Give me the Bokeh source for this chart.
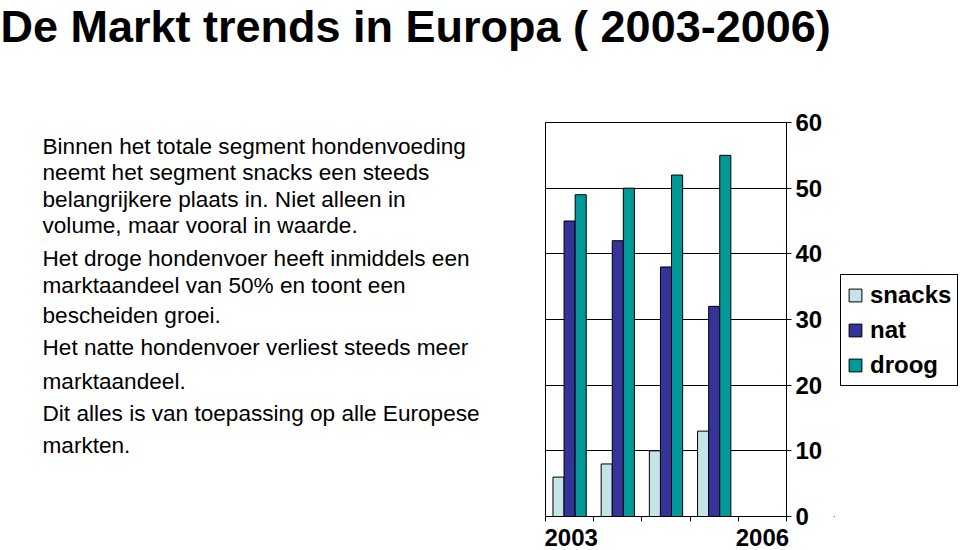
from bokeh.plotting import figure
from bokeh.models import Range1d, FixedTicker, Legend, LegendItem, ColumnDataSource
from bokeh.layouts import column, row
from bokeh.core.properties import value
from bokeh.embed import file_html
from bokeh.resources import INLINE
import numpy as np

# ---------------- data ----------------
years = ["2003", "2004", "2005", "2006"]
snacks = [6, 8, 10, 13]
nat = [45, 42, 38, 32]
droog = [49, 50, 52, 55]
series_names = ["snacks", "nat", "droog"]
slot_labels = ["2003", "", "", "", "2006"]
y_ticks = [0, 10, 20, 30, 40, 50, 60]

title_text = "De Markt trends in Europa ( 2003-2006)"
body_lines = [
    "Binnen het totale segment hondenvoeding",
    "neemt het segment snacks een steeds",
    "belangrijkere plaats in. Niet alleen in",
    "volume, maar vooral in waarde.",
    "Het droge hondenvoer heeft inmiddels een",
    "marktaandeel van 50% en toont een",
    "bescheiden groei.",
    "Het natte hondenvoer verliest steeds meer",
    "marktaandeel.",
    "Dit alles is van toepassing op alle Europese",
    "markten.",
]

# ---------------- styles / layout ----------------
colors = ["#C4E4E8", "#333399", "#009999"]
FONT = "Liberation Sans"
W, H = 960, 550
TOP_H = 100
ROW_H = H - TOP_H
TEXT_W = 544
CHART_R = 834
FL, FR, FT, FB = 545, 786, 122, 516          # chart frame edges (page px)
title_baseline = 41
body_baselines = [153, 179, 206, 232, 265, 292, 322, 354, 388, 420, 452]
TITLE_SIZE, BODY_SIZE = 45, 22.6
BASE_SHIFT = 0.33                              # renderer's baseline offset (em)


def blank(width, height, y0, y1):
    f = figure(width=width, height=height, x_range=Range1d(0, width), y_range=Range1d(y0, y1),
               output_backend="svg", toolbar_location=None, min_border=0,
               x_axis_type=None, y_axis_type=None)
    f.title = None
    f.min_border_top = 0
    f.min_border_bottom = 0
    f.min_border_left = 0
    f.min_border_right = 0
    f.grid.visible = False
    f.outline_line_color = None
    f.background_fill_color = "white"
    f.border_fill_color = "white"
    return f


# ---------------- title strip ----------------
tp = blank(W, TOP_H, 0, TOP_H)
tp.text(x=[0], y=[TOP_H - (title_baseline - BASE_SHIFT * TITLE_SIZE)], text=[title_text],
        text_font=value(FONT), text_font_size=f"{TITLE_SIZE}px", text_font_style="bold",
        text_color="black", text_baseline="alphabetic", text_align="left")

# ---------------- body text (row frames align with chart frame FT..FB) ----------------
lp = blank(TEXT_W, ROW_H, H - FB, H - FT)
lp.text(x=[42] * len(body_lines), y=[H - (b - BASE_SHIFT * BODY_SIZE) for b in body_baselines],
        text=body_lines, text_font=value(FONT), text_font_size=f"{BODY_SIZE}px",
        text_color="black", text_baseline="alphabetic", text_align="left")

# ---------------- chart ----------------
p = figure(width=CHART_R - TEXT_W, height=ROW_H, title=None,
           x_range=Range1d(0, len(slot_labels)), y_range=Range1d(y_ticks[0], y_ticks[-1]),
           y_axis_location="right", output_backend="svg", toolbar_location=None,
           min_border_left=FL - TEXT_W, min_border_right=CHART_R - FR,
           min_border_top=FT - TOP_H, min_border_bottom=H - FB)
p.outline_line_color = "black"
p.outline_line_width = 1
p.background_fill_color = "white"
p.border_fill_color = "white"

idx = np.arange(len(years))
offsets = [0.27, 0.5, 0.73]
bw = 0.23
for vals, off, col in zip([snacks, nat, droog], offsets, colors):
    src = ColumnDataSource(dict(x=idx + off, top=vals))
    p.vbar(x="x", top="top", width=bw, source=src, fill_color=col,
           line_color="black", line_width=1)

tick_pos = [i + 0.5 for i, s in enumerate(slot_labels) if s]
p.xaxis.ticker = FixedTicker(ticks=tick_pos, minor_ticks=list(range(len(slot_labels) + 1)))
p.xaxis.major_label_overrides = {i + 0.5: s for i, s in enumerate(slot_labels) if s}
p.xaxis.major_tick_out = 0
p.xaxis.major_tick_in = 0
p.xaxis.minor_tick_out = 5
p.xaxis.minor_tick_in = 0
p.xaxis.minor_tick_line_color = "black"
p.xaxis.axis_line_color = "black"
p.xaxis.major_label_text_font = FONT
p.xaxis.major_label_text_font_size = "24px"
p.xaxis.major_label_text_font_style = "bold"
p.xaxis.major_label_text_color = "black"
p.xaxis.major_label_standoff = 7

p.yaxis.ticker = FixedTicker(ticks=y_ticks)
p.yaxis.major_tick_out = 5
p.yaxis.major_tick_in = 0
p.yaxis.major_tick_line_color = "black"
p.yaxis.minor_tick_line_color = None
p.yaxis.axis_line_color = "black"
p.yaxis.major_label_text_font = FONT
p.yaxis.major_label_text_font_size = "24px"
p.yaxis.major_label_text_font_style = "bold"
p.yaxis.major_label_text_color = "black"
p.yaxis.major_label_standoff = 4

p.xgrid.visible = False
p.ygrid.ticker = FixedTicker(ticks=y_ticks)
p.ygrid.grid_line_color = "black"
p.ygrid.grid_line_width = 1

# ---------------- legend strip (swatch renderers kept off-view) ----------------
gp = blank(W - CHART_R, ROW_H, 0, FB - FT)
items = []
for name, col in zip(series_names, colors):
    r = gp.vbar(x=[-1000], top=[0], width=1, fill_color=col, line_color="black", line_width=1)
    items.append(LegendItem(label=name, renderers=[r]))
legend = Legend(items=items, location=(840 - CHART_R, FB - 386), orientation="vertical")
legend.border_line_color = "black"
legend.border_line_alpha = 1
legend.border_line_width = 1
legend.background_fill_color = "white"
legend.background_fill_alpha = 1
legend.label_text_font = FONT
legend.label_text_font_size = "24px"
legend.label_text_font_style = "bold"
legend.label_text_color = "black"
legend.glyph_width = 16
legend.glyph_height = 16
legend.label_standoff = 7
legend.padding = 6
legend.spacing = 7
legend.margin = 0
gp.add_layout(legend, "center")

layout = column(tp, row(lp, p, gp))
open("out.html", "w").write(file_html(layout, INLINE))
